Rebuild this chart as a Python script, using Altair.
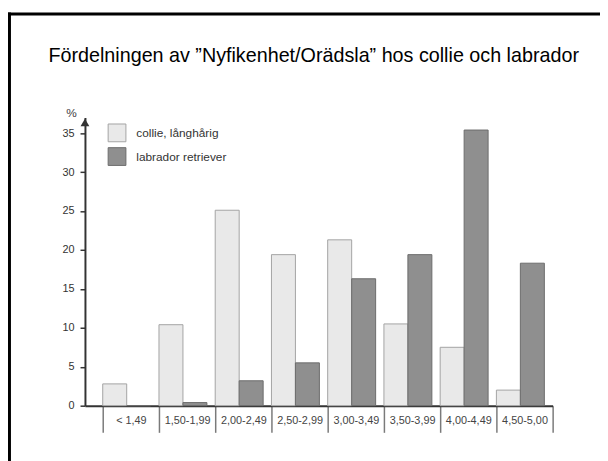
import altair as alt
import pandas as pd

categories = ["< 1,49", "1,50-1,99", "2,00-2,49", "2,50-2,99",
              "3,00-3,49", "3,50-3,99", "4,00-4,49", "4,50-5,00"]
collie = [2.8, 10.4, 25.1, 19.4, 21.3, 10.5, 7.5, 2.0]
labrador = [0.0, 0.4, 3.2, 5.5, 16.3, 19.4, 35.4, 18.3]
series = ["collie, långhårig", "labrador retriever"]
fills = ["#e9e9e9", "#8f8f8f"]
strokes = ["#a3a3a3", "#6c6c6c"]
y_ticks = [0, 5, 10, 15, 20, 25, 30, 35]
title_text = "Fördelningen av \u201dNyfikenhet/Orädsla\u201d hos collie och labrador"

rows = []
for c, a, b in zip(categories, collie, labrador):
    rows.append({"kategori": c, "serie": series[0], "procent": a})
    rows.append({"kategori": c, "serie": series[1], "procent": b})
df = pd.DataFrame(rows)

FONT = "Liberation Sans"
W, H = 474, 292

legend_args = dict(title=None, orient="none", legendX=23, legendY=6,
                   symbolType="square", symbolSize=324, symbolStrokeWidth=1,
                   rowPadding=1, labelOffset=10, labelFontSize=12,
                   labelColor="#333333", labelFont=FONT)

bars = alt.Chart(df).mark_bar(strokeWidth=1).encode(
    x=alt.X("kategori:N", sort=categories, title=None,
            scale=alt.Scale(paddingInner=0, paddingOuter=0.158, align=1),
            axis=alt.Axis(labelAngle=0, tickBand="extent", tickSize=27,
                          tickWidth=1.5, tickColor="#7a7a7a",
                          domainColor="#333333", domainWidth=2,
                          labelPadding=-18, labelFontSize=11,
                          labelColor="#444444", labelFont=FONT)),
    xOffset=alt.XOffset("serie:N", sort=series,
                        scale=alt.Scale(domain=series, paddingInner=0,
                                        paddingOuter=0.173, align=0)),
    y=alt.Y("procent:Q", scale=alt.Scale(domain=[0, 37], nice=False),
            axis=alt.Axis(values=y_ticks, title="%", titleAngle=0,
                          titleX=-14, titleY=-5, titleAlign="center",
                          titleBaseline="middle", titleFontWeight="normal",
                          titleFontSize=12, titleColor="#444444",
                          titleFont=FONT, tickSize=5, tickWidth=1.5,
                          tickColor="#333333", domainColor="#333333",
                          domainWidth=2, labelPadding=6, labelFontSize=11,
                          labelColor="#333333", labelFont=FONT, grid=False)),
    fill=alt.Fill("serie:N", sort=series,
                  scale=alt.Scale(domain=series, range=fills),
                  legend=alt.Legend(**legend_args)),
    stroke=alt.Stroke("serie:N", sort=series,
                      scale=alt.Scale(domain=series, range=strokes),
                      legend=alt.Legend(**legend_args)),
)

one = alt.Data(values=[{"t": title_text}])

title = alt.Chart(one).mark_text(align="left", baseline="alphabetic",
                                 font=FONT, fontSize=20,
                                 color="#000000").encode(
    x=alt.value(-37), y=alt.value(-56), text="t:N")

arrow = alt.Chart(one).mark_point(shape="triangle-up", filled=True,
                                  color="#333333", opacity=1, size=80).encode(
    x=alt.value(0), y=alt.value(5))

frame_top = alt.Chart(one).mark_rule(color="black", strokeWidth=3).encode(
    x=alt.value(-79), x2=alt.value(560), y=alt.value(-105))
frame_left = alt.Chart(one).mark_rule(color="black", strokeWidth=3).encode(
    x=alt.value(-76.5), y=alt.value(-106.5), y2=alt.value(360))

chart = alt.layer(bars, title, arrow, frame_top, frame_left).properties(
    width=W, height=H,
    autosize=alt.AutoSizeParams(type="none"),
    padding={"left": 78, "top": 108, "right": 48, "bottom": 53},
).configure_view(stroke=None)

chart.save("out.html", embed_options={"renderer": "svg", "actions": False})
